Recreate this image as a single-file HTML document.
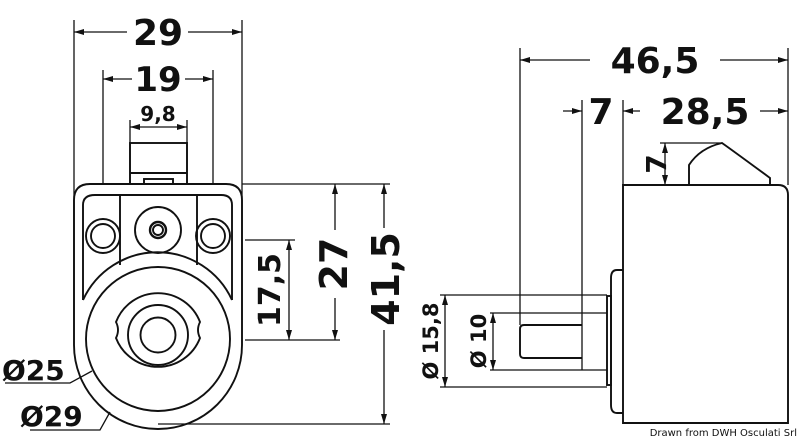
<!DOCTYPE html>
<html><head><meta charset="utf-8"><style>
html,body{margin:0;padding:0;background:#fff;width:800px;height:439px;overflow:hidden}
svg{display:block}
text{font-family:"DejaVu Sans","Liberation Sans",sans-serif;fill:#111;font-weight:bold}
</style></head><body>
<svg width="800" height="439" viewBox="0 0 800 439" xmlns="http://www.w3.org/2000/svg">
<defs>
<marker id="a" viewBox="0 0 10 6" refX="10" refY="3" markerWidth="10" markerHeight="6" orient="auto-start-reverse" markerUnits="userSpaceOnUse"><path d="M0,0 L10,3 L0,6 Z" fill="#111"/></marker>
</defs>
<g stroke="#111" fill="none" stroke-width="1.3">
<line x1="74" y1="20" x2="74" y2="320"/>
<line x1="242" y1="20" x2="242" y2="320"/>
<line x1="103" y1="70" x2="103" y2="184"/>
<line x1="213" y1="70" x2="213" y2="184"/>
<line x1="130" y1="120" x2="130" y2="184"/>
<line x1="187" y1="120" x2="187" y2="184"/>
<line x1="242" y1="184" x2="390" y2="184"/>
<line x1="245" y1="240" x2="295" y2="240"/>
<line x1="245" y1="340" x2="340" y2="340"/>
<line x1="158" y1="424" x2="390" y2="424"/>
<line x1="74" y1="32" x2="127" y2="32" marker-start="url(#a)"/>
<line x1="188" y1="32" x2="242" y2="32" marker-end="url(#a)"/>
<line x1="103" y1="79" x2="132" y2="79" marker-start="url(#a)"/>
<line x1="185" y1="79" x2="213" y2="79" marker-end="url(#a)"/>
<line x1="130" y1="127" x2="187" y2="127" marker-start="url(#a)" marker-end="url(#a)"/>
<line x1="289" y1="240" x2="289" y2="340" marker-start="url(#a)" marker-end="url(#a)"/>
<line x1="335" y1="184" x2="335" y2="230" marker-start="url(#a)"/>
<line x1="335" y1="298" x2="335" y2="340" marker-end="url(#a)"/>
<line x1="384" y1="184" x2="384" y2="228" marker-start="url(#a)"/>
<line x1="384" y1="330" x2="384" y2="424" marker-end="url(#a)"/>
<line x1="520" y1="48" x2="520" y2="325"/>
<line x1="788" y1="48" x2="788" y2="185"/>
<line x1="582" y1="100" x2="582" y2="370"/>
<line x1="623" y1="100" x2="623" y2="185"/>
<line x1="520" y1="60" x2="590" y2="60" marker-start="url(#a)"/>
<line x1="720" y1="60" x2="788" y2="60" marker-end="url(#a)"/>
<line x1="563" y1="111" x2="582" y2="111" marker-end="url(#a)"/>
<line x1="623" y1="111" x2="640" y2="111" marker-start="url(#a)"/>
<line x1="760" y1="111" x2="788" y2="111" marker-end="url(#a)"/>
<line x1="660" y1="143" x2="722" y2="143"/>
<line x1="665" y1="143" x2="665" y2="185" marker-start="url(#a)" marker-end="url(#a)"/>
<line x1="440" y1="295" x2="607" y2="295"/>
<line x1="440" y1="387" x2="607" y2="387"/>
<line x1="490" y1="313" x2="607" y2="313"/>
<line x1="490" y1="370" x2="607" y2="370"/>
<line x1="445" y1="295" x2="445" y2="387" marker-start="url(#a)" marker-end="url(#a)"/>
<line x1="493" y1="313" x2="493" y2="370" marker-start="url(#a)" marker-end="url(#a)"/>
<path d="M5,383 L70,383 L92,371"/>
<path d="M30,430 L100,430 L110,412"/>
</g>
<g stroke="#111" fill="none" stroke-width="1.9">
<rect x="130" y="143" width="57" height="41"/>
<line x1="130" y1="173" x2="187" y2="173"/>
<rect x="144" y="179" width="29" height="5"/>
<path d="M74,345 L74,200 Q74,184 90,184 L226,184 Q242,184 242,200 L242,345 A84,84 0 0 1 74,345 Z"/>
<path d="M83,300 L83,205 Q83,195 95,195 L221,195 Q232,195 232,205 L232,300" />
<line x1="120" y1="195" x2="120" y2="265"/>
<line x1="197" y1="195" x2="197" y2="265"/>
<path d="M83,300 A82,82 0 0 1 232,300"/>
<circle cx="158" cy="339" r="72"/>
<circle cx="103" cy="236" r="17"/><circle cx="103" cy="236" r="12"/>
<circle cx="213" cy="236" r="17"/><circle cx="213" cy="236" r="12"/>
<circle cx="158" cy="230" r="23"/><circle cx="158" cy="230" r="8" stroke-width="2.4"/><circle cx="158" cy="230" r="5"/>
<path d="M116,322 A45,45 0 0 1 200,322 Q196,330 200,338 A45,45 0 0 1 116,338 Q120,330 116,322 Z"/>
<circle cx="158" cy="335" r="30"/>
<circle cx="158" cy="335" r="17.5"/>
<path d="M623,185 L778,185 Q788,185 788,195 L788,423 L623,423 Z"/>
<path d="M689,185 L689,165 Q700,148 722,143 Q732,150 770,178 L770,185"/>
<path d="M623,270 L617,270 Q611,270 611,278 L611,405 Q611,413 617,413 L623,413"/>
<rect x="607" y="296" width="4" height="89"/>
<path d="M582,325 L524,325 Q520,325 520,329 L520,354 Q520,358 524,358 L582,358"/>
</g>
<g>
<text x="158" y="45" font-size="36" text-anchor="middle">29</text>
<text x="158" y="91" font-size="34" text-anchor="middle">19</text>
<text x="158" y="121" font-size="20" text-anchor="middle">9,8</text>
<text transform="translate(280,290) rotate(-90)" font-size="30" text-anchor="middle">17,5</text>
<text transform="translate(347,264) rotate(-90)" font-size="38" text-anchor="middle">27</text>
<text transform="translate(399,279) rotate(-90)" font-size="38" text-anchor="middle">41,5</text>
<text x="2" y="380" font-size="28">Ø25</text>
<text x="20" y="426" font-size="28">Ø29</text>
<text x="655" y="73" font-size="36" text-anchor="middle">46,5</text>
<text x="601" y="124" font-size="36" text-anchor="middle">7</text>
<text x="705" y="124" font-size="36" text-anchor="middle">28,5</text>
<text transform="translate(666,164) rotate(-90)" font-size="28" text-anchor="middle">7</text>
<text transform="translate(438,341) rotate(-90)" font-size="21" text-anchor="middle">Ø 15,8</text>
<text transform="translate(486,341) rotate(-90)" font-size="21" text-anchor="middle">Ø 10</text>
<text x="797" y="436" font-size="10" text-anchor="end" style="font-weight:normal" font-family="Liberation Sans Narrow, Liberation Sans, sans-serif">Drawn from DWH Osculati Srl</text>
</g>
</svg>
</body></html>
